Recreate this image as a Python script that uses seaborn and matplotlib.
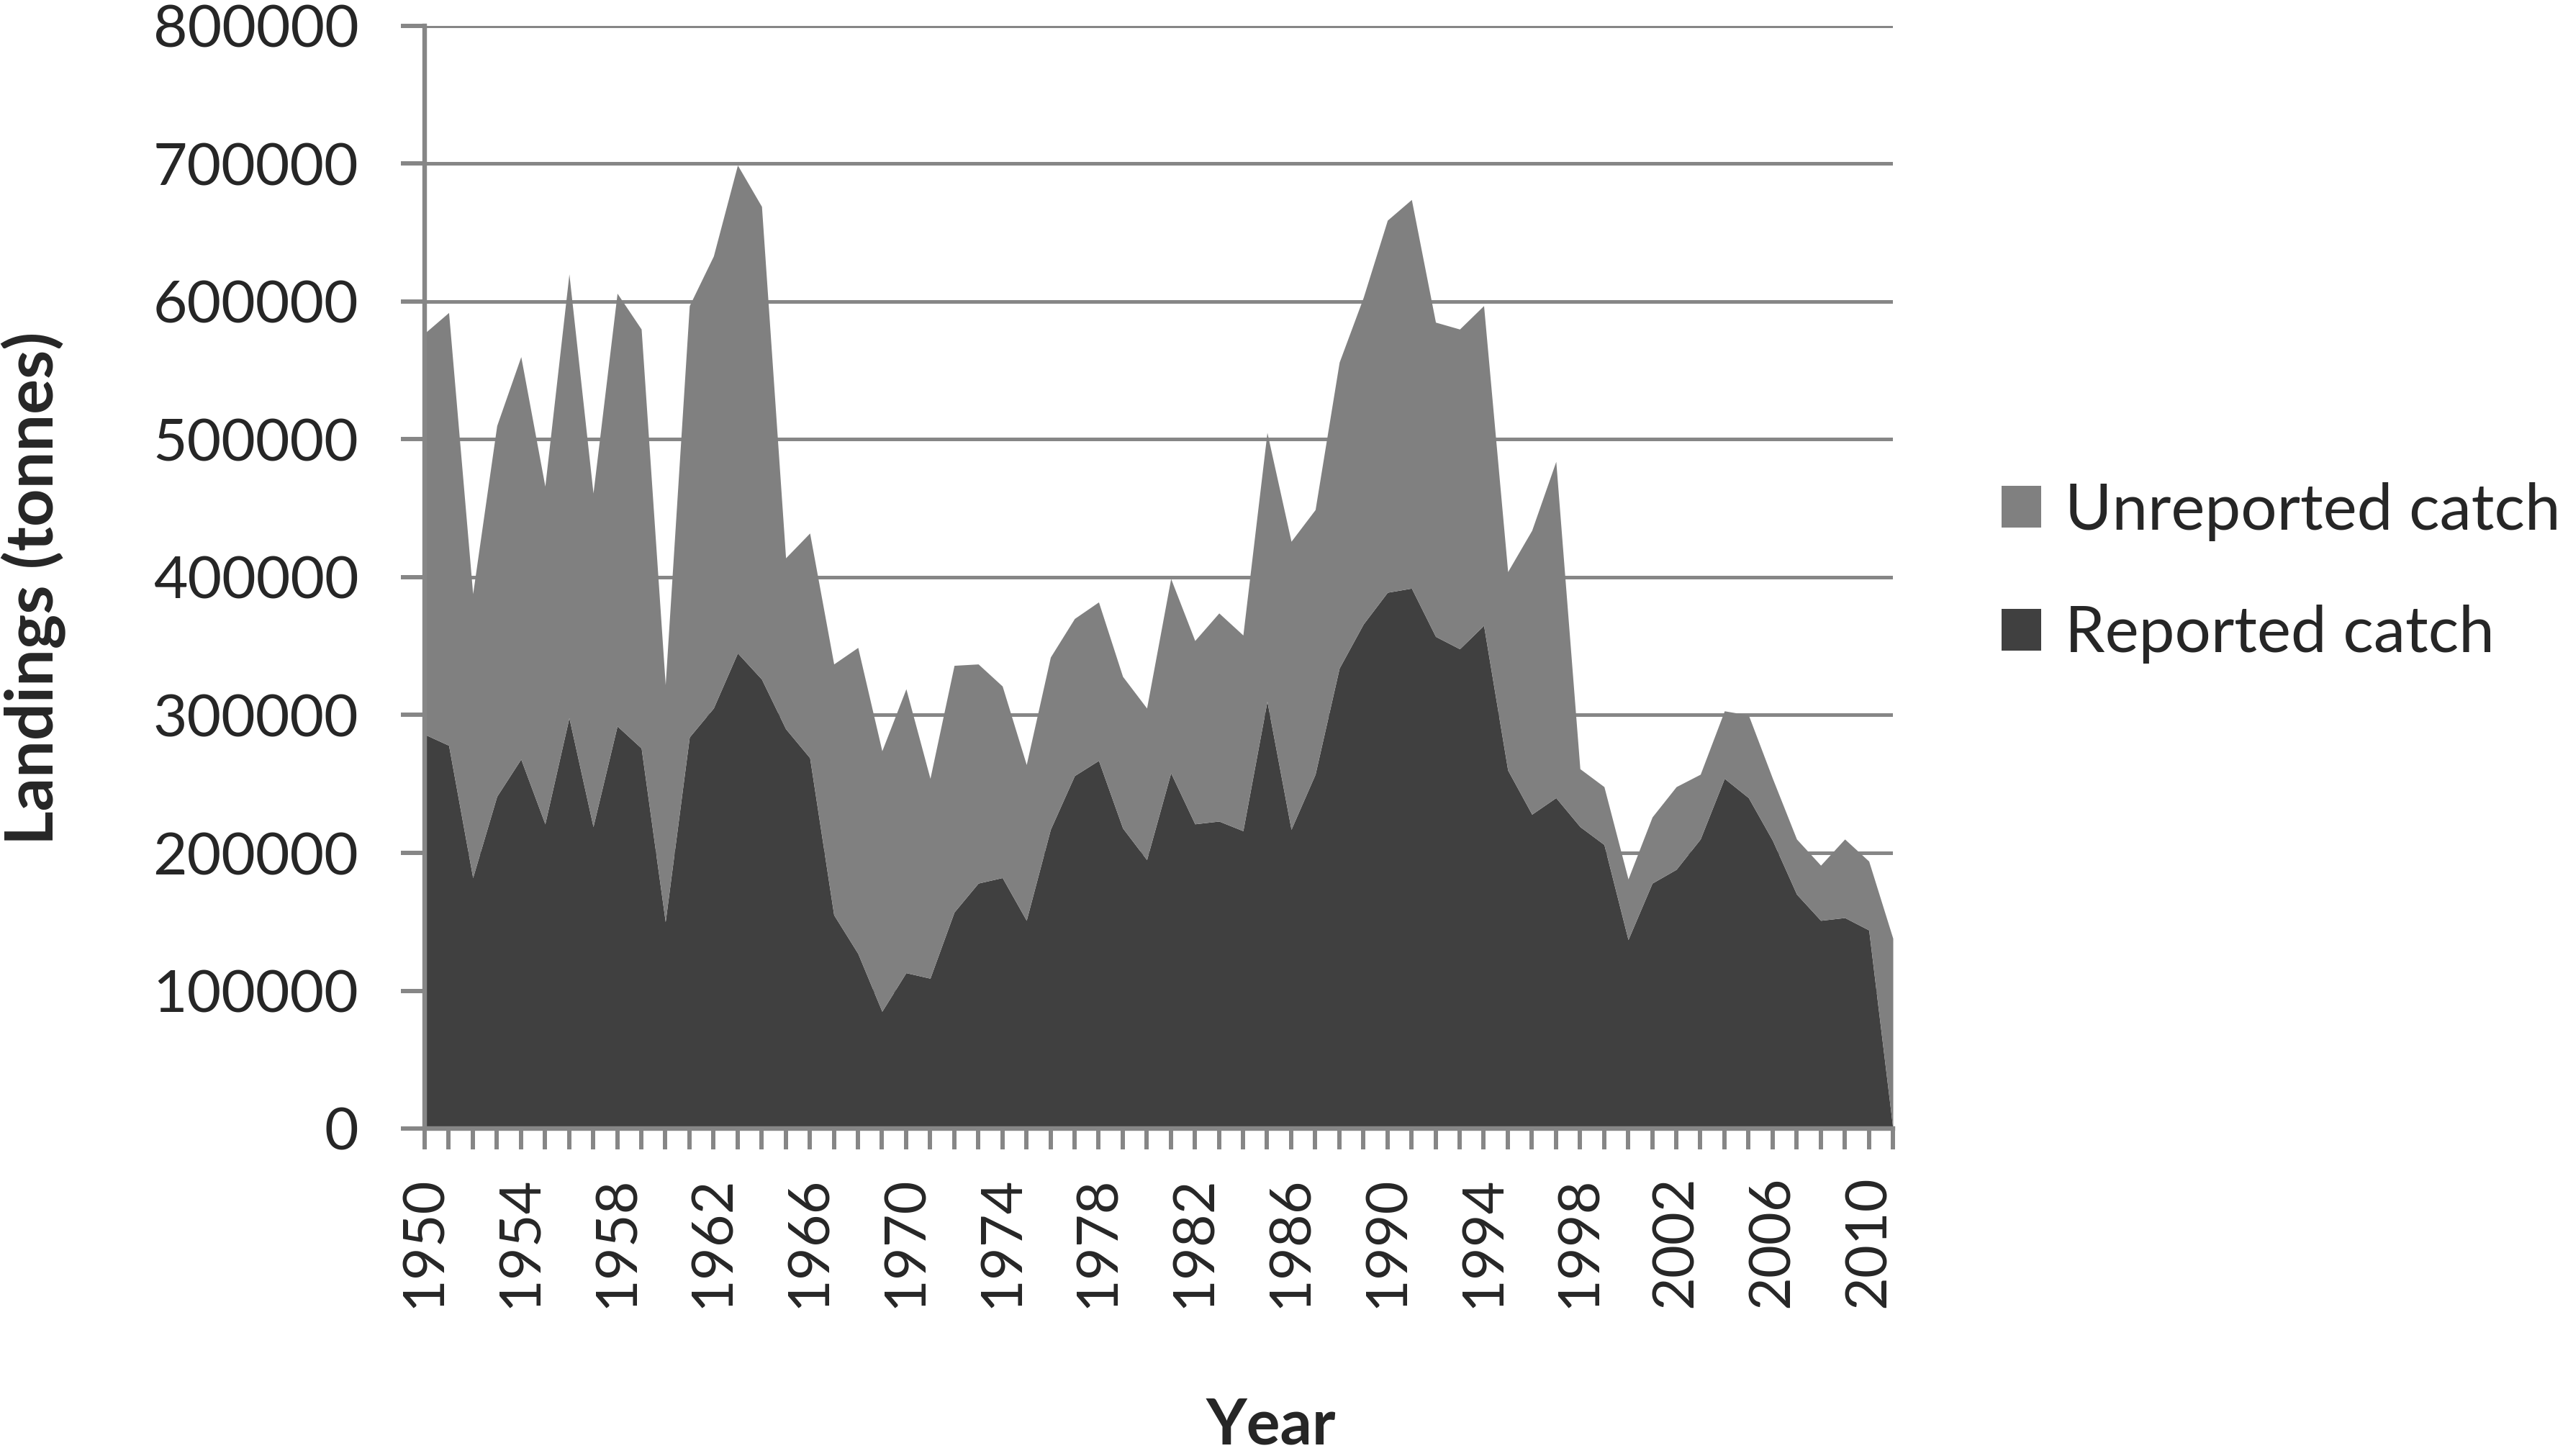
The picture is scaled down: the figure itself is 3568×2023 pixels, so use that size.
import numpy as np
import pandas as pd
import seaborn as sns
from matplotlib import pyplot as plt

sns.set_style('white')
plt.rcParams['font.family'] = ['Lato', 'DejaVu Sans']

years = list(range(1950, 2012))

reported = [286000, 278000, 182000, 241000, 268000, 221000, 298000, 219000, 292000, 276000,
            150000, 284000, 305000, 345000, 326000, 290000, 269000, 155000, 127000, 85000,
            113000, 109000, 157000, 178000, 182000, 151000, 217000, 256000, 267000, 218000,
            195000, 258000, 221000, 223000, 216000, 310000, 217000, 257000, 334000, 366000,
            389000, 392000, 357000, 348000, 365000, 260000, 228000, 240000, 219000, 206000,
            137000, 178000, 188000, 210000, 254000, 240000, 209000, 170000, 151000, 153000,
            144000, 0]

unreported = [291000, 314000, 206000, 269000, 292000, 245000, 322000, 242000, 314000, 304000,
              172000, 313000, 328000, 354000, 343000, 124000, 163000, 182000, 222000, 189000,
              206000, 145000, 179000, 159000, 139000, 113000, 125000, 114000, 115000, 110000,
              110000, 141000, 133000, 151000, 142000, 195000, 209000, 192000, 222000, 237000,
              270000, 282000, 228000, 232000, 232000, 144000, 206000, 244000, 42000, 42000,
              44000, 48000, 60000, 47000, 49000, 60000, 45000, 40000, 40000, 57000,
              50000, 138000]

series_names = ['Reported catch', 'Unreported catch']
series_colors = ['#404040', '#808080']

y_ticks = list(range(0, 800001, 100000))
x_labelled = list(range(1950, 2011, 4))

df = pd.DataFrame({'Year': years, 'Reported catch': reported, 'Unreported catch': unreported})

grid_col = '#868686'

fig = plt.figure(figsize=(35.68, 20.23), dpi=100)
ax = fig.add_axes([590/3568, 1 - 1568/2023, 2040/3568, 1532/2023])

ax.stackplot(df['Year'], df['Reported catch'], df['Unreported catch'],
             colors=series_colors, labels=series_names, linewidth=0, zorder=2)

ax.set_xlim(1950, 2011)
ax.set_ylim(0, 800000)

ax.set_yticks(y_ticks)
ax.set_yticklabels([str(v) for v in y_ticks])
ax.set_xticks(years)
ax.set_xticklabels([str(y) if y in x_labelled else '' for y in years], rotation=90)

ax.yaxis.grid(True, color=grid_col, linewidth=3.6, zorder=0)
ax.xaxis.grid(False)
ax.set_axisbelow(True)

sns.despine(ax=ax, top=True, right=True)
for side in ['left', 'bottom']:
    ax.spines[side].set_color(grid_col)
    ax.spines[side].set_linewidth(4.6)
    ax.spines[side].set_zorder(3)

ax.tick_params(axis='x', which='major', direction='out', length=21, width=4.3, color=grid_col,
               labelsize=57, pad=26, bottom=True)
ax.tick_params(axis='y', which='major', direction='out', length=24, width=4.3, color=grid_col,
               labelsize=59, pad=42, left=True)

ax.set_ylabel('Landings (tonnes)', fontsize=66, fontweight='bold', va='center')
ax.yaxis.set_label_coords(-0.266, 0.49)
ax.set_xlabel('Year', fontsize=63, fontweight='bold', va='baseline')
ax.xaxis.set_label_coords(0.5765, -0.286)

handles, labels = ax.get_legend_handles_labels()
fig.legend(handles[::-1], labels[::-1], loc='center left',
           bbox_to_anchor=(2781/3568, 1 - 796/2023), frameon=False,
           fontsize=64, handlelength=0.62, handleheight=0.62, handletextpad=0.37,
           labelspacing=1.0, borderpad=0, borderaxespad=0)

fig.savefig('out.png', dpi=100)
